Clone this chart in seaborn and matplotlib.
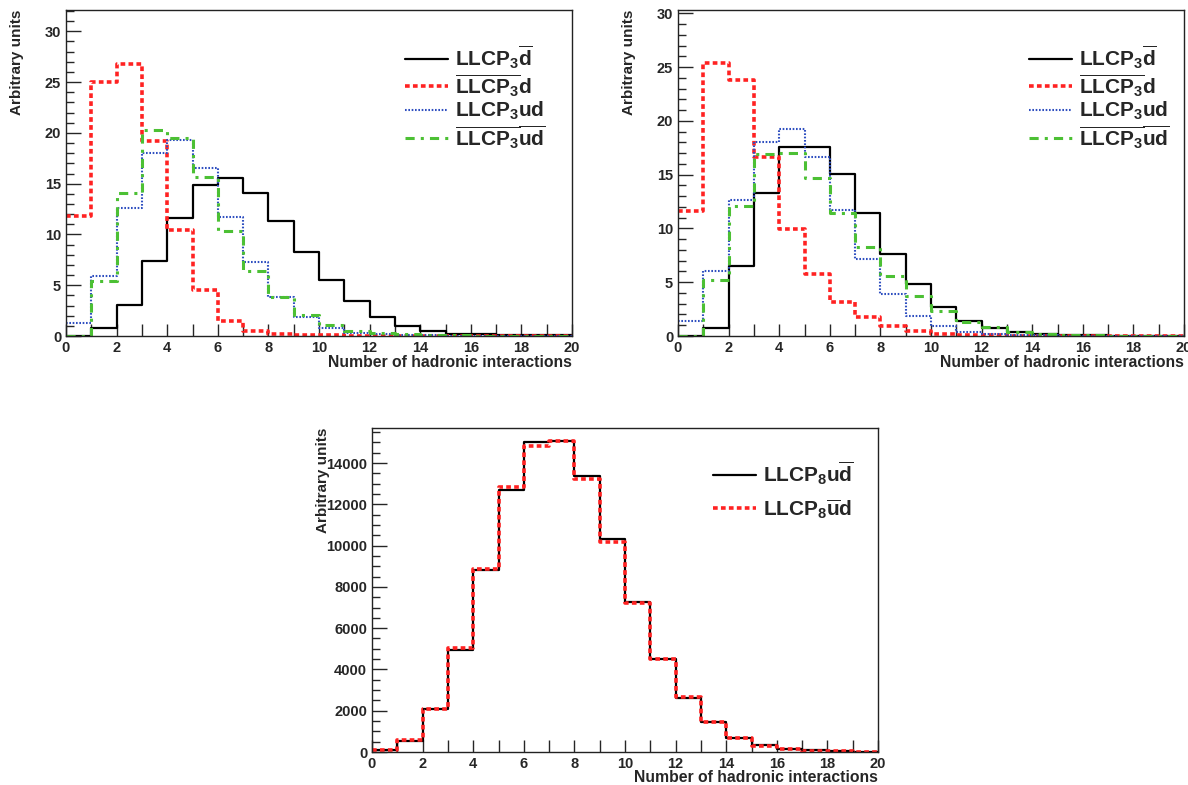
import numpy as np
import pandas as pd
import matplotlib
matplotlib.use("Agg")
import matplotlib.pyplot as plt
from matplotlib.ticker import MultipleLocator
import seaborn as sns

# bin edges 0..20, one value per bin
bins = list(range(21))
centres = [b + 0.5 for b in bins[:-1]]

# top-left panel
tl_dbar = [0, 0.8, 3.1, 7.4, 11.6, 14.9, 15.6, 14.1, 11.3, 8.3, 5.5, 3.4, 1.9, 1.0, 0.5, 0.2, 0.15, 0.1, 0.05, 0.05]
tl_antid = [11.8, 25.0, 26.8, 19.2, 10.4, 4.5, 1.5, 0.5, 0.15, 0.08, 0.05, 0.03, 0.02, 0.02, 0.02, 0.02, 0.02, 0.02, 0.02, 0.02]
tl_ud = [1.3, 5.9, 12.6, 18.0, 19.3, 16.5, 11.7, 7.3, 3.8, 1.9, 0.8, 0.3, 0.15, 0.08, 0.05, 0.03, 0.02, 0.02, 0.02, 0.02]
tl_antiud = [0, 5.4, 14.1, 20.3, 19.5, 15.7, 10.3, 6.4, 3.8, 2.1, 1.1, 0.5, 0.3, 0.15, 0.1, 0.05, 0.03, 0.02, 0.02, 0.02]

# top-right panel
tr_dbar = [0, 0.7, 6.5, 13.3, 17.6, 17.6, 15.1, 11.4, 7.6, 4.8, 2.7, 1.4, 0.7, 0.4, 0.2, 0.1, 0.05, 0.03, 0.02, 0.02]
tr_antid = [11.6, 25.4, 23.8, 16.6, 9.9, 5.8, 3.2, 1.8, 0.9, 0.5, 0.2, 0.1, 0.05, 0.03, 0.02, 0.02, 0.02, 0.02, 0.02, 0.02]
tr_ud = [1.4, 6.0, 12.6, 18.0, 19.2, 16.6, 11.7, 7.2, 3.9, 1.9, 0.9, 0.4, 0.2, 0.1, 0.05, 0.03, 0.02, 0.02, 0.02, 0.02]
tr_antiud = [0, 5.2, 12.1, 16.9, 17.0, 14.7, 11.4, 8.3, 5.6, 3.7, 2.3, 1.3, 0.8, 0.4, 0.2, 0.1, 0.05, 0.03, 0.02, 0.02]

# bottom panel
b_udbar = [80, 550, 2100, 4950, 8800, 12700, 15000, 15050, 13350, 10300, 7250, 4500, 2600, 1450, 700, 350, 150, 80, 40, 20]
b_ubard = [80, 560, 2080, 5020, 8850, 12850, 14850, 15050, 13250, 10200, 7200, 4500, 2650, 1450, 700, 300, 150, 70, 40, 20]

labels3 = [r"$LLCP_3\overline{d}$", r"$\overline{LLCP_3}d$", r"$LLCP_3ud$", r"$\overline{LLCP_3}\overline{ud}$"]
labels8 = [r"$LLCP_8u\overline{d}$", r"$LLCP_8\overline{u}d$"]

sns.set_style("ticks")
plt.rcParams["font.family"] = ["Liberation Sans", "DejaVu Sans"]
plt.rcParams["font.weight"] = "bold"
plt.rcParams["mathtext.fontset"] = "custom"
plt.rcParams["mathtext.rm"] = "Liberation Sans:bold"
plt.rcParams["mathtext.it"] = "Liberation Sans:bold"
plt.rcParams["mathtext.bf"] = "Liberation Sans:bold"

styles = [
    dict(color="black", linewidth=1.6, linestyle="-"),
    dict(color="#ff2222", linewidth=2.6, linestyle=(0, (1.3, 0.9))),
    dict(color="#2f4fc0", linewidth=1.5, linestyle=(0, (0.8, 0.8))),
    dict(color="#4cc034", linewidth=2.2, linestyle=(0, (3, 2, 1, 2))),
]

W, H = 1188, 785
fig = plt.figure(figsize=(W / 100, H / 100), dpi=100)


def add_ax(x0, y0, x1, y1):
    return fig.add_axes([x0 / W, 1 - y1 / H, (x1 - x0) / W, (y1 - y0) / H])


def draw_panel(ax, series, labels, ymax, ymajor, yminor, legend_xy, spacing):
    for vals, lab, st in zip(series, labels, styles):
        df = pd.DataFrame({"x": centres, "w": vals})
        sns.histplot(data=df, x="x", weights="w", bins=bins, element="step",
                     fill=False, ax=ax, label=lab, **st)
    ax.set_xlim(0, 20)
    ax.set_ylim(0, ymax)
    ax.xaxis.set_major_locator(MultipleLocator(2))
    ax.xaxis.set_minor_locator(MultipleLocator(1))
    ax.yaxis.set_major_locator(MultipleLocator(ymajor))
    ax.yaxis.set_minor_locator(MultipleLocator(yminor))
    ax.tick_params(which="both", direction="in", top=False, right=False,
                   labelsize=10.5, width=1)
    ax.tick_params(axis="y", which="major", length=11)
    ax.tick_params(axis="y", which="minor", length=6)
    ax.tick_params(axis="x", which="both", length=9)
    for s in ax.spines.values():
        s.set_linewidth(1)
        s.set_color("#222222")
    for t in ax.get_xticklabels() + ax.get_yticklabels():
        t.set_fontweight("bold")
    ax.set_xlabel("Number of hadronic interactions", fontsize=11.3, fontweight="bold", loc="right")
    ax.set_ylabel("Arbitrary units", fontsize=11, fontweight="bold", loc="top")
    ax.xaxis.set_label_coords(1.0, -0.057)
    ax.yaxis.set_label_coords(-0.083, 1.0)
    ax.legend(loc="upper left", bbox_to_anchor=legend_xy, frameon=False,
              fontsize=15, handlelength=2.1, handletextpad=0.3, labelspacing=spacing)


ax1 = add_ax(66, 10, 572, 336)
draw_panel(ax1, [tl_dbar, tl_antid, tl_ud, tl_antiud], labels3, 32.1, 5, 1, (0.632, 0.954), 0.05)

ax2 = add_ax(678, 10, 1184, 336)
draw_panel(ax2, [tr_dbar, tr_antid, tr_ud, tr_antiud], labels3, 30.3, 5, 1, (0.656, 0.954), 0.05)

ax3 = add_ax(372, 428, 878, 752)
draw_panel(ax3, [b_udbar, b_ubard], labels8, 15700, 2000, 500, (0.636, 0.96), 0.5)

fig.savefig("out.png", dpi=100)
